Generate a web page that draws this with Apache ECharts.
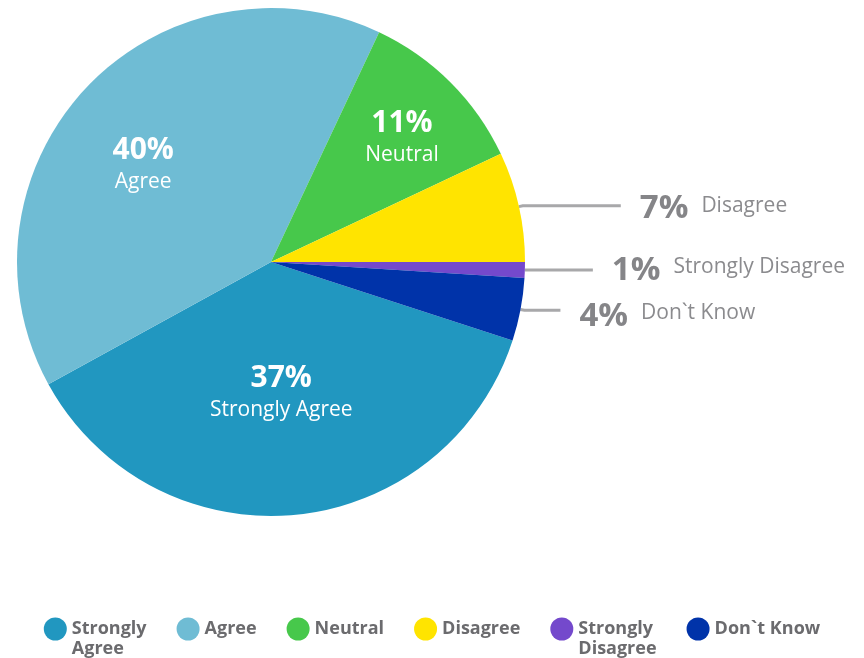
<!DOCTYPE html>
<html>
<head>
<meta charset="utf-8">
<script src="https://cdn.jsdelivr.net/npm/echarts@6/dist/echarts.min.js"></script>
<style>
  html, body { margin: 0; padding: 0; background: #ffffff; }
  #chart { width: 864px; height: 658px; }
</style>
</head>
<body>
<div id="chart"></div>
<script>
// Survey responses, share of all answers (%)
const categories = ['Strongly Agree', 'Agree', 'Neutral', 'Disagree', 'Strongly Disagree', 'Don`t Know'];
const shares = [37, 40, 11, 7, 1, 4];
const colors = ['#2197c0', '#6fbcd4', '#47c84b', '#ffe400', '#7449cc', '#0033a9'];

// Large slices carry their label inside; small ones use a leader line
const insideLabels = ['Strongly Agree', 'Agree', 'Neutral'];
const leaderLength = { 'Disagree': 98, 'Strongly Disagree': 64, 'Don`t Know': 36 };
const labelShift = {
  'Agree': [-33, -7], 'Neutral': [39, -31], 'Strongly Agree': [-2, 3],
  'Disagree': [0, 3], 'Don`t Know': [0, 6]
};
// Legend labels that wrap; a blank first line keeps the first text line level with the dot
const legendText = { 'Strongly Agree': ' \nStrongly\nAgree', 'Strongly Disagree': ' \nStrongly\nDisagree' };

const FONT = '"Open Sans"';

const pieData = categories.map((name, i) => {
  const inside = insideLabels.includes(name);
  const item = { name, value: shares[i], itemStyle: { color: colors[i] } };
  if (inside) {
    item.label = {
      position: 'inside',
      formatter: '{p|{c}%}\n{n|{b}}',
      rich: {
        p: { fontFamily: FONT, fontWeight: 'bold', fontSize: 30, color: '#ffffff', lineHeight: 32 },
        n: { fontFamily: FONT, fontSize: 21, color: '#ffffff', lineHeight: 32 }
      }
    };
    item.labelLine = { show: false };
  } else {
    item.label = {
      position: 'outside',
      distanceToLabelLine: 19,
      formatter: '{p|{c}%}{n|{b}}',
      rich: {
        p: { fontFamily: FONT, fontWeight: 'bold', fontSize: 33, color: '#858588' },
        n: { fontFamily: FONT, fontSize: 21, color: '#8b8b8e', padding: [0, 0, 6, 13] }
      }
    };
    item.labelLine = { show: true, length: 4, length2: leaderLength[name],
      lineStyle: { color: '#a8a8aa', width: 3 } };
  }
  return item;
});

const chart = echarts.init(document.getElementById('chart'), null, { renderer: 'canvas' });
chart.setOption({
  animation: false,
  backgroundColor: '#ffffff',
  legend: {
    bottom: -6,
    left: 'center',
    icon: 'circle',
    itemWidth: 23,
    itemHeight: 23,
    itemGap: 30,
    data: categories,
    formatter: name => legendText[name] || name,
    textStyle: { fontFamily: FONT, fontWeight: 'bold', fontSize: 18, color: '#6b6b6e', lineHeight: 20 }
  },
  series: [{
    type: 'pie',
    center: [271, 262],
    radius: 254,
    startAngle: -18,
    clockwise: true,
    avoidLabelOverlap: false,
    data: pieData,
    labelLayout: params => {
      const s = labelShift[categories[params.dataIndex]];
      return s ? { dx: s[0], dy: s[1] } : {};
    }
  }]
});
</script>
</body>
</html>
